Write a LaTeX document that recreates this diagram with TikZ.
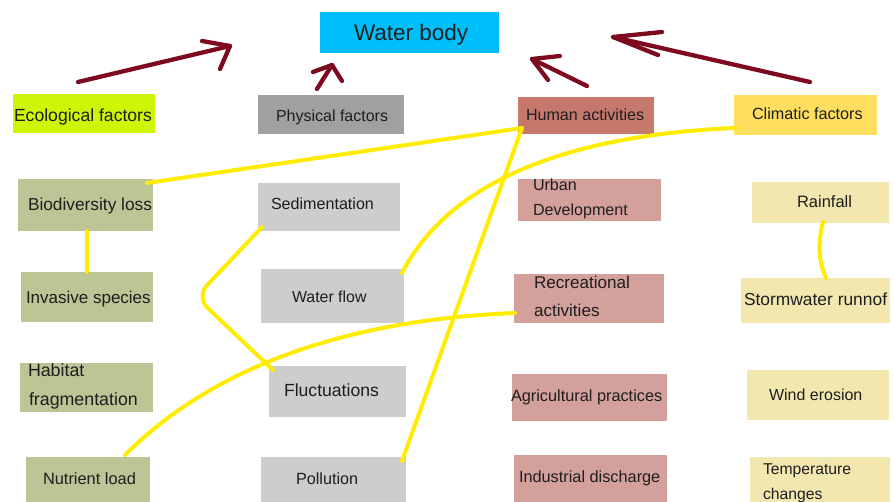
\documentclass[tikz,border=0pt]{standalone}
\usepackage{fontspec}
\setmainfont{Liberation Sans}
\usetikzlibrary{calc}
\newcommand\myfs[1]{\fontsize{#1}{#1}\selectfont}
\definecolor{wbc}{RGB}{0,190,250}
\definecolor{ecoc}{RGB}{205,245,5}
\definecolor{phyc}{RGB}{160,160,160}
\definecolor{humc}{RGB}{198,120,108}
\definecolor{clic}{RGB}{255,222,95}
\definecolor{ecok}{RGB}{187,197,150}
\definecolor{phyk}{RGB}{205,205,205}
\definecolor{humk}{RGB}{212,160,155}
\definecolor{clik}{RGB}{242,232,175}
\definecolor{txtc}{RGB}{30,30,30}
\definecolor{arrc}{RGB}{125,10,30}
\definecolor{ylw}{RGB}{255,236,0}
\newcommand\mybox[6]{\node[box,fill=#2,minimum width={#5pt-#3pt},minimum height={#6pt-#4pt}] (#1) at ({(#3+#5)/2},{(#4+#6)/2}) {};}
\newcommand\mytxt[5]{\node[txt,font=\myfs{#2}] (#1) at (#3,#4) {#5};}
\begin{document}
\begin{tikzpicture}[x=1pt,y=-1pt,
  box/.style={draw=none,inner sep=0pt,outer sep=0pt},
  txt/.style={anchor=base west,inner sep=0pt,outer sep=0pt,text=txtc},
  arr/.style={line width=4.3pt,draw=arrc,line cap=round,line join=round},
  yl/.style={line width=4pt,draw=ylw,line cap=round,line join=round}]
\useasboundingbox (0,0) rectangle (894,502);
\fill[white] (0,0) rectangle (894,502);
% boxes
\mybox{wb}{wbc}{320}{12}{499}{53}
\mybox{eco}{ecoc}{13}{94}{155}{133}
\mybox{phy}{phyc}{258}{95}{404}{134}
\mybox{hum}{humc}{518}{97}{654}{134}
\mybox{cli}{clic}{734}{95}{877}{135}
\mybox{bio}{ecok}{18}{179}{153}{231}
\mybox{sed}{phyk}{258}{183}{400}{231}
\mybox{urb}{humk}{518}{179}{661}{221}
\mybox{rain}{clik}{752}{182}{889}{223}
\mybox{inv}{ecok}{21}{272}{153}{322}
\mybox{wf}{phyk}{261}{269}{404}{323}
\mybox{rec}{humk}{514}{274}{664}{323}
\mybox{storm}{clik}{741}{278}{890}{323}
\mybox{hab}{ecok}{20}{363}{153}{412}
\mybox{flu}{phyk}{269}{366}{406}{417}
\mybox{agr}{humk}{512}{374}{667}{421}
\mybox{wind}{clik}{747}{370}{889}{420}
\mybox{nut}{ecok}{26}{457}{150}{508}
\mybox{pol}{phyk}{261}{457}{406}{508}
\mybox{ind}{humk}{514}{455}{667}{508}
\mybox{temp}{clik}{750}{457}{890}{508}
% yellow connectors
\draw[yl] ($(bio.north east)+(-6,4)$) -- ($(hum.south west)+(4,-6)$);
\draw[yl] ($(hum.south west)+(4,-6)$) -- ($(pol.north east)+(-4,4)$);
\draw[yl] ($(cli.south west)+(1,-7)$) .. controls (570,135) and (450,180) .. ($(wf.north east)+(-2,4)$);
\draw[yl] (inv.north |- bio.south) -- (inv.north);
\draw[yl,rounded corners=16pt] ($(sed.south west)+(4,-4)$) -- (196,297) -- ($(flu.north west)+(4,4)$);
\draw[yl] ($(nut.north)+(37,-2)$) .. controls (210,370) and (340,320) .. ($(rec.south west)+(1,-10)$);
\draw[yl] ($(rain.south)+(2.5,-1)$) .. controls (817,245) and (819,262) .. ($(storm.north)+(10.5,0)$);
% arrows
\coordinate (a1s) at (78,82);  \coordinate (a1t) at (230,46);
\coordinate (a2s) at (317,89); \coordinate (a2t) at (332,65);
\coordinate (a3s) at (587,86); \coordinate (a3t) at (532,59);
\coordinate (a4s) at (810,82); \coordinate (a4t) at (613,37);
\draw[arr] (a1s) -- (a1t); \draw[arr] (202,41) -- (a1t) -- (220,69);
\draw[arr] (a2s) -- (a2t); \draw[arr] (313,72) -- (a2t) -- (342,81);
\draw[arr] (a3s) -- (a3t); \draw[arr] (560,56) -- (a3t) -- (548,80);
\draw[arr] (a4s) -- (a4t); \draw[arr] (662,32) -- (a4t) -- (658,55);
% texts
\mytxt{twb}{22.5}{354}{40.7}{Water body}
\mytxt{teco}{17.6}{14}{121.7}{Ecological factors}
\mytxt{tphy}{16}{276}{121.7}{Physical factors}
\mytxt{thum}{16.1}{526}{120.7}{Human activities}
\mytxt{tcli}{16.2}{752}{119.3}{Climatic factors}
\mytxt{tbio}{17.3}{28}{211}{Biodiversity loss}
\mytxt{tsed}{16.1}{271}{210}{Sedimentation}
\mytxt{turb}{16.1}{533}{190.7}{Urban}
\mytxt{turbb}{16.1}{533}{216}{Development}
\mytxt{train}{16.5}{797}{207.3}{Rainfall}
\mytxt{tinv}{17}{26}{303.3}{Invasive species}
\mytxt{twf}{15.9}{292}{302.7}{Water flow}
\mytxt{trec}{17.1}{534}{288.3}{Recreational}
\mytxt{trecb}{17.1}{534}{316.7}{activities}
\mytxt{tstorm}{17.4}{744}{305.7}{Stormwater runnof}
\mytxt{thab}{17.8}{28}{376.7}{Habitat}
\mytxt{thabb}{17.8}{29}{406}{fragmentation}
\mytxt{tflu}{17.6}{284}{396}{Fluctuations}
\mytxt{tagr}{16.3}{511}{401.7}{Agricultural practices}
\mytxt{twind}{16}{769}{400.7}{Wind erosion}
\mytxt{tnut}{16.4}{43}{484}{Nutrient load}
\mytxt{tpol}{16.2}{296}{484.3}{Pollution}
\mytxt{tind}{16.3}{519}{482.3}{Industrial discharge}
\mytxt{ttemp}{15.7}{763}{474}{Temperature}
\mytxt{ttempb}{15.7}{763}{499.3}{changes}
\end{tikzpicture}
\end{document}
